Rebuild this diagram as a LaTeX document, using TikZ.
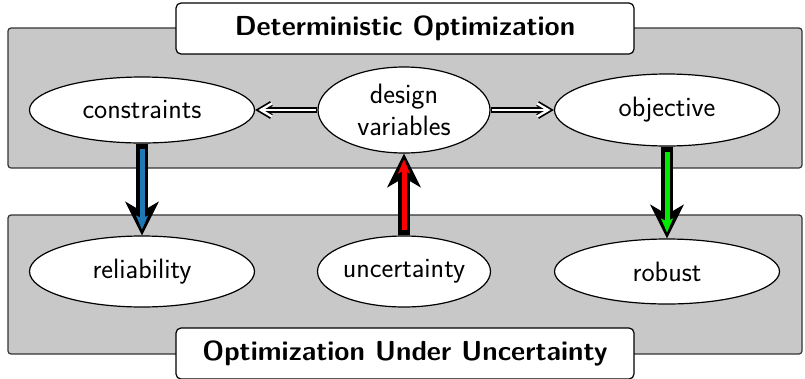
\documentclass[tikz,border=0pt]{standalone}
\usetikzlibrary{shapes.geometric,arrows.meta}
\definecolor{panelgray}{RGB}{200,200,200}
\definecolor{arrowblue}{RGB}{31,119,180}
\definecolor{arrowgreen}{RGB}{0,235,0}
\definecolor{arrowred}{RGB}{255,0,0}
\begin{document}
\begin{tikzpicture}[x=1pt,y=-1pt,
  font=\sffamily\fontsize{28}{32}\selectfont,
  panel/.style={draw=black!80, fill=panelgray, line width=1.2pt, rounded corners=3pt, inner sep=0pt},
  titlebox/.style={draw=black, fill=white, line width=1.2pt, rounded corners=5pt, inner sep=0pt,
    minimum width=458pt, minimum height=51pt, font=\sffamily\bfseries\fontsize{27.5}{30}\selectfont},
  oval/.style={ellipse, draw, fill=white, line width=1.2pt, inner sep=0pt, align=center},
  dblout/.style={line width=5.4pt, -{Straight Barb[sharp,length=11pt,width=13pt,line width=5.4pt]}},
  dblin/.style={white, line width=2.4pt, -{Straight Barb[sharp,length=11pt,width=13pt,line width=2.4pt]}, shorten <=1pt, shorten >=3.4pt},
  bigarrow/.style={line width=12pt, -{Stealth[length=34pt,width=34pt,inset=10pt,line width=1pt]}},
  inarrow/.style={line width=5pt, -{Stealth[length=14pt,width=12pt,inset=3pt,line width=0.5pt]}, shorten <=5pt, shorten >=6pt}]
\useasboundingbox (0,0) rectangle (805,378);

\node[panel, minimum width=794pt, minimum height=140pt] (ptop) at (405,98) {};
\node[panel, minimum width=794pt, minimum height=139pt] (pbot) at (405,284.5) {};
\node[titlebox] (ttop) at (405,28.5) {Deterministic Optimization};
\node[titlebox] (tbot) at (405,353.5) {Optimization Under Uncertainty};

\node[oval, minimum width=225pt, minimum height=66pt] (cons) at (142,110) {constraints};
\node[oval, minimum width=172pt, minimum height=86pt] (dv) at (404,110) {design\\variables};
\node[oval, minimum width=225pt, minimum height=72pt] (obj) at (667,110) {objective};
\node[oval, minimum width=225pt, minimum height=71pt] (rel) at (142,271.5) {reliability};
\node[oval, minimum width=172pt, minimum height=71pt] (unc) at (404,271.5) {uncertainty};
\node[oval, minimum width=225pt, minimum height=65pt] (rob) at (667,271.5) {robust};

\draw[dblout] (dv.west) -- (cons.east);
\draw[dblin] (dv.west) -- (cons.east);
\draw[dblout] (dv.east) -- (obj.west);
\draw[dblin] (dv.east) -- (obj.west);

\draw[bigarrow] (cons.south) -- (rel.north);
\draw[inarrow, arrowblue] (cons.south) -- (rel.north);
\draw[bigarrow] (unc.north) -- (dv.south);
\draw[inarrow, arrowred] (unc.north) -- (dv.south);
\draw[bigarrow] (obj.south) -- (rob.north);
\draw[inarrow, arrowgreen] (obj.south) -- (rob.north);
\end{tikzpicture}
\end{document}
